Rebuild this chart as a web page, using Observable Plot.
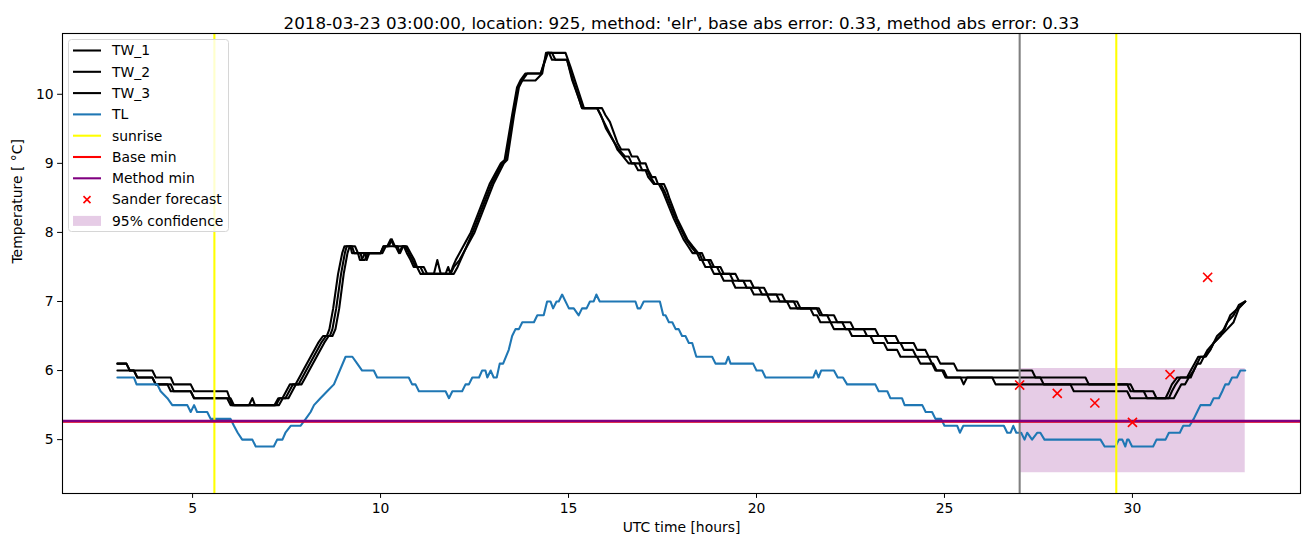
<!DOCTYPE html>
<html><head><meta charset="utf-8">
<script src="https://cdn.jsdelivr.net/npm/d3@7"></script>
<script src="https://cdn.jsdelivr.net/npm/@observablehq/plot@0.6"></script>
<style>
body{margin:0;background:#fff;font-family:"DejaVu Sans",sans-serif;}
#wrap{position:relative;width:1310px;height:547px;}
#legend{position:absolute;left:68px;top:39px;width:161px;height:193px;}
</style></head><body><div id="wrap"></div>
<script>
const titleText = "2018-03-23 03:00:00, location: 925, method: 'elr', base abs error: 0.33, method abs error: 0.33";
const xLabel = "UTC time [hours]";
const yLabel = "Temperature [ °C]";
const xTicks = [5, 10, 15, 20, 25, 30];
const yTicks = [5, 6, 7, 8, 9, 10];
const seriesNames = ["TW_1", "TW_2", "TW_3", "TL"];

const tw1 = [[3.00,6.1],[3.24,6.1],[3.33,6.0],[3.93,6.0],[4.02,5.9],[4.42,5.9],[4.50,5.8],[4.95,5.8],[5.04,5.7],[5.92,5.7],[6.05,5.5],[7.30,5.5],[7.40,5.6],[7.55,5.6],[7.65,5.7],[7.75,5.8],[7.90,5.8],[8.00,5.9],[8.10,6.0],[8.30,6.2],[8.50,6.4],[8.62,6.5],[8.72,6.5],[8.80,6.6],[8.90,6.9],[9.02,7.4],[9.12,7.7],[9.18,7.8],[9.32,7.8],[9.40,7.7],[9.58,7.7],[9.63,7.6],[9.70,7.7],[10.05,7.7],[10.14,7.8],[10.22,7.8],[10.30,7.9],[10.38,7.8],[10.45,7.8],[10.52,7.7],[10.60,7.8],[10.70,7.8],[10.80,7.7],[10.90,7.6],[10.97,7.5],[11.15,7.5],[11.24,7.4],[11.86,7.4],[11.95,7.5],[12.10,7.6],[12.50,8.0],[13.00,8.7],[13.28,9.0],[13.37,9.05],[13.55,9.7],[13.68,10.1],[13.77,10.2],[13.90,10.3],[14.26,10.3],[14.43,10.6],[14.92,10.6],[15.05,10.4],[15.23,10.1],[15.41,9.8],[15.89,9.8],[15.98,9.7],[16.10,9.6],[16.30,9.3],[16.40,9.2],[16.60,9.2],[16.68,9.1],[16.83,9.1],[16.92,9.0],[17.05,9.0],[17.12,8.9],[17.22,8.8],[17.31,8.8],[17.38,8.7],[17.54,8.7],[17.62,8.6],[17.68,8.5],[17.89,8.2],[18.16,7.9],[18.30,7.8],[18.45,7.7],[18.55,7.7],[18.63,7.6],[18.78,7.6],[18.87,7.5],[19.04,7.5],[19.13,7.4],[19.44,7.4],[19.53,7.3],[19.84,7.3],[19.93,7.2],[20.20,7.2],[20.29,7.1],[20.68,7.1],[20.77,7.0],[21.08,7.0],[21.17,6.9],[21.66,6.9],[21.75,6.8],[22.06,6.8],[22.15,6.7],[22.50,6.7],[22.59,6.6],[23.16,6.6],[23.25,6.5],[23.70,6.5],[23.79,6.4],[24.18,6.4],[24.27,6.3],[24.49,6.3],[24.58,6.2],[24.80,6.2],[24.89,6.1],[25.25,6.1],[25.34,6.0],[27.33,6.0],[27.42,5.9],[28.75,5.9],[28.84,5.8],[29.95,5.8],[30.04,5.7],[30.55,5.7],[30.64,5.6],[31.10,5.6],[31.20,5.7],[31.30,5.8],[31.40,5.8],[31.50,5.9],[31.63,6.0],[31.72,6.1],[31.81,6.1],[31.90,6.2],[32.07,6.3],[32.16,6.4],[32.34,6.5],[32.52,6.6],[32.69,6.7],[32.83,6.9],[33.00,7.0]];

const tw2 = [[3.00,6.1],[3.24,6.1],[3.33,6.0],[3.44,6.0],[3.53,5.9],[3.93,5.9],[4.02,5.8],[4.42,5.8],[4.50,5.7],[4.95,5.7],[5.04,5.6],[6.01,5.6],[6.10,5.5],[6.50,5.5],[6.59,5.6],[6.66,5.5],[7.22,5.5],[7.32,5.6],[7.47,5.6],[7.57,5.7],[7.67,5.8],[7.82,5.8],[7.92,5.9],[8.02,6.0],[8.22,6.2],[8.42,6.4],[8.55,6.5],[8.65,6.5],[8.72,6.6],[8.82,6.9],[8.95,7.4],[9.05,7.7],[9.10,7.8],[9.24,7.8],[9.30,7.7],[9.47,7.7],[9.51,7.6],[9.58,7.6],[9.66,7.7],[10.00,7.7],[10.08,7.8],[10.18,7.8],[10.27,7.9],[10.36,7.8],[10.58,7.8],[10.66,7.8],[10.75,7.7],[10.85,7.6],[10.93,7.5],[11.06,7.5],[11.15,7.4],[11.42,7.4],[11.51,7.6],[11.60,7.4],[11.95,7.4],[12.05,7.5],[12.45,8.0],[12.95,8.7],[13.24,9.0],[13.33,9.05],[13.52,9.7],[13.65,10.1],[13.74,10.2],[13.90,10.2],[14.12,10.2],[14.30,10.3],[14.40,10.6],[14.48,10.6],[14.56,10.5],[14.96,10.5],[15.10,10.2],[15.30,9.9],[15.36,9.8],[15.76,9.8],[15.86,9.7],[16.00,9.5],[16.22,9.3],[16.34,9.2],[16.50,9.1],[16.60,9.1],[16.68,9.0],[16.88,9.0],[16.96,8.9],[17.10,8.9],[17.18,8.8],[17.30,8.7],[17.45,8.7],[17.55,8.6],[17.85,8.2],[18.12,7.9],[18.25,7.8],[18.40,7.7],[18.48,7.7],[18.56,7.6],[18.71,7.6],[18.80,7.5],[18.95,7.5],[19.04,7.4],[19.29,7.4],[19.38,7.3],[19.65,7.3],[19.74,7.2],[20.06,7.2],[20.15,7.1],[20.53,7.1],[20.62,7.0],[20.99,7.0],[21.08,6.9],[21.60,6.9],[21.69,6.8],[21.88,6.8],[21.97,6.7],[22.28,6.7],[22.37,6.6],[22.85,6.6],[22.94,6.5],[23.40,6.5],[23.49,6.4],[23.83,6.4],[23.92,6.3],[24.16,6.3],[24.25,6.2],[24.58,6.2],[24.67,6.1],[24.70,6.1],[24.79,6.0],[24.98,6.0],[25.07,5.9],[27.55,5.9],[27.64,5.8],[29.86,5.8],[29.95,5.7],[30.30,5.7],[30.39,5.6],[30.97,5.6],[31.05,5.7],[31.15,5.8],[31.28,5.9],[31.55,5.9],[31.63,6.0],[31.72,6.1],[31.81,6.2],[31.95,6.2],[32.07,6.3],[32.25,6.5],[32.45,6.6],[32.60,6.8],[32.80,6.9],[33.00,7.0]];

const tw3 = [[3.00,6.0],[3.44,6.0],[3.53,5.9],[3.93,5.9],[4.02,5.8],[4.33,5.8],[4.42,5.7],[4.95,5.7],[5.04,5.6],[5.92,5.6],[6.01,5.5],[7.18,5.5],[7.28,5.6],[7.39,5.6],[7.49,5.7],[7.59,5.8],[7.74,5.8],[7.84,5.9],[7.94,6.0],[8.14,6.2],[8.34,6.4],[8.47,6.5],[8.57,6.5],[8.64,6.6],[8.74,6.9],[8.87,7.4],[8.98,7.7],[9.04,7.8],[9.20,7.8],[9.24,7.7],[9.40,7.7],[9.45,7.6],[9.50,7.6],[9.58,7.7],[10.00,7.7],[10.08,7.8],[10.40,7.8],[10.49,7.7],[10.58,7.8],[10.62,7.8],[10.70,7.7],[10.80,7.6],[10.88,7.5],[10.97,7.5],[11.06,7.4],[11.73,7.4],[11.80,7.5],[11.86,7.4],[11.92,7.5],[12.00,7.6],[12.40,8.0],[12.90,8.7],[13.20,9.0],[13.30,9.05],[13.50,9.7],[13.63,10.1],[13.72,10.2],[13.85,10.3],[14.26,10.3],[14.45,10.6],[14.56,10.6],[14.65,10.5],[14.96,10.5],[15.12,10.2],[15.36,9.8],[15.76,9.8],[15.94,9.6],[16.22,9.3],[16.30,9.2],[16.45,9.1],[16.60,9.0],[16.75,9.0],[16.85,8.9],[17.05,8.9],[17.12,8.8],[17.27,8.7],[17.40,8.7],[17.50,8.6],[17.80,8.2],[18.06,7.9],[18.18,7.8],[18.30,7.7],[18.42,7.7],[18.50,7.6],[18.55,7.6],[18.64,7.5],[18.78,7.5],[18.87,7.4],[19.04,7.4],[19.13,7.3],[19.35,7.3],[19.44,7.2],[19.84,7.2],[19.93,7.1],[20.28,7.1],[20.37,7.0],[20.81,7.0],[20.90,6.9],[21.43,6.9],[21.52,6.8],[21.61,6.8],[21.70,6.7],[21.97,6.7],[22.06,6.6],[22.45,6.6],[22.54,6.5],[23.03,6.5],[23.12,6.4],[23.39,6.4],[23.48,6.3],[23.74,6.3],[23.83,6.2],[24.27,6.2],[24.36,6.1],[24.67,6.1],[24.76,6.0],[24.94,6.0],[25.03,5.9],[25.43,5.9],[25.51,5.8],[25.60,5.9],[26.27,5.9],[26.36,5.8],[28.35,5.8],[28.44,5.7],[29.86,5.7],[29.95,5.6],[30.88,5.6],[30.97,5.7],[31.05,5.8],[31.19,5.9],[31.45,5.9],[31.55,6.0],[31.65,6.1],[31.75,6.2],[31.90,6.2],[32.00,6.3],[32.16,6.4],[32.34,6.5],[32.52,6.7],[32.69,6.8],[32.83,6.95],[33.00,7.0]];

const tl = [[3.00,5.9],[3.44,5.9],[3.51,5.8],[4.06,5.8],[4.15,5.7],[4.33,5.6],[4.46,5.5],[4.86,5.5],[4.95,5.4],[5.04,5.5],[5.12,5.4],[5.39,5.4],[5.48,5.3],[6.01,5.3],[6.10,5.2],[6.20,5.1],[6.32,5.0],[6.59,5.0],[6.68,4.9],[7.16,4.9],[7.25,5.0],[7.39,5.0],[7.47,5.1],[7.61,5.2],[7.87,5.2],[8.01,5.3],[8.14,5.4],[8.23,5.5],[8.40,5.6],[8.58,5.7],[8.76,5.8],[9.07,6.2],[9.25,6.2],[9.38,6.1],[9.51,6.0],[9.82,6.0],[9.91,5.9],[10.75,5.9],[10.84,5.8],[10.93,5.8],[11.02,5.7],[11.73,5.7],[11.82,5.6],[11.91,5.7],[12.17,5.7],[12.26,5.8],[12.35,5.8],[12.44,5.9],[12.62,5.9],[12.70,6.0],[12.79,6.0],[12.84,5.9],[12.93,6.0],[13.01,5.9],[13.09,5.9],[13.17,6.1],[13.26,6.1],[13.41,6.3],[13.50,6.5],[13.59,6.6],[13.68,6.6],[13.77,6.7],[14.08,6.7],[14.17,6.8],[14.34,6.8],[14.43,7.0],[14.52,7.0],[14.59,6.9],[14.68,7.0],[14.74,7.0],[14.83,7.1],[15.01,6.9],[15.14,6.9],[15.27,6.8],[15.36,6.9],[15.48,6.9],[15.57,7.0],[15.67,7.0],[15.74,7.1],[15.83,7.0],[16.78,7.0],[16.84,6.9],[16.91,6.9],[17.00,7.0],[17.43,7.0],[17.52,6.8],[17.58,6.8],[17.67,6.7],[17.76,6.7],[17.85,6.6],[17.93,6.6],[18.02,6.5],[18.11,6.5],[18.20,6.4],[18.29,6.4],[18.40,6.2],[18.82,6.2],[18.91,6.1],[19.18,6.1],[19.25,6.2],[19.31,6.1],[19.91,6.1],[20.00,6.0],[20.15,6.0],[20.24,5.9],[21.51,5.9],[21.58,6.0],[21.65,5.9],[21.72,6.0],[22.06,6.0],[22.16,5.9],[22.30,5.9],[22.41,5.8],[23.16,5.8],[23.25,5.7],[23.48,5.7],[23.56,5.6],[23.87,5.6],[23.94,5.5],[24.41,5.5],[24.50,5.4],[24.67,5.4],[24.76,5.3],[24.91,5.3],[25.00,5.2],[25.34,5.2],[25.41,5.1],[25.50,5.2],[26.58,5.2],[26.67,5.1],[26.76,5.1],[26.83,5.2],[26.91,5.1],[27.04,5.1],[27.13,5.0],[27.20,5.1],[27.33,5.0],[27.47,5.1],[27.55,5.1],[27.66,5.0],[29.15,5.0],[29.26,4.9],[29.55,4.9],[29.64,5.0],[29.73,5.0],[29.81,4.9],[29.86,5.0],[29.90,5.0],[29.99,4.9],[30.55,4.9],[30.64,5.0],[30.88,5.0],[30.97,5.1],[31.26,5.1],[31.35,5.2],[31.52,5.2],[31.63,5.3],[31.72,5.4],[31.81,5.5],[32.07,5.5],[32.16,5.6],[32.30,5.6],[32.39,5.7],[32.47,5.8],[32.56,5.8],[32.65,5.9],[32.78,5.9],[32.87,6.0],[33.00,6.0]];

const sunriseHours = [5.58, 29.57];
const forecastStartHour = [27.0];
const baseMin = [5.27];
const methodMin = [5.27];
const forecastHours = [27, 28, 29, 30, 31, 32];
const forecastTemps = [5.79, 5.67, 5.53, 5.25, 5.94, 7.35];
const confHours = [27, 33];
const confLower = [4.52, 4.52];
const confUpper = [6.03, 6.03];

const LW = 2.08;
const colors = {TW_1: "#000000", TW_2: "#000000", TW_3: "#000000", TL: "#1f77b4"};
const lineRows = [];
[tw1, tw2, tw3, tl].forEach((arr, i) => arr.forEach(([h, v]) => lineRows.push({series: seriesNames[i], hour: h, temp: v})));
const confRows = confHours.map((h, i) => ({hour: h, lo: confLower[i], hi: confUpper[i]}));
const fcRows = forecastHours.map((h, i) => ({hour: h, temp: forecastTemps[i]}));

const chart = Plot.plot({
  width: 1310, height: 547,
  marginLeft: 62, marginRight: 10, marginTop: 33, marginBottom: 54,
  style: {fontFamily: "DejaVu Sans, sans-serif", fontSize: "13.9px", color: "#000", background: "#fff"},
  x: {domain: [1.54, 34.47]},
  y: {domain: [4.22, 10.88]},
  marks: [
    Plot.areaY(confRows, {x: "hour", y1: "lo", y2: "hi", fill: "purple", fillOpacity: 0.2}),
    Plot.line(lineRows.filter(d => d.series !== "TL"), {x: "hour", y: "temp", z: "series", stroke: "#000", strokeWidth: LW}),
    Plot.line(lineRows.filter(d => d.series === "TL"), {x: "hour", y: "temp", stroke: colors.TL, strokeWidth: LW}),
    Plot.ruleX(sunriseHours, {stroke: "#ffff00", strokeWidth: LW}),
    Plot.ruleX(forecastStartHour, {stroke: "#808080", strokeWidth: LW}),
    Plot.ruleY(baseMin, {stroke: "red", strokeWidth: 2.5, dy: 0.6}),
    Plot.ruleY(methodMin, {stroke: "purple", strokeWidth: 2.5}),
    Plot.dot(fcRows, {x: "hour", y: "temp", symbol: "times", r: 4.2, stroke: "red", strokeWidth: 1.6}),
    Plot.frame({stroke: "#000", strokeWidth: 1.1}),
    Plot.axisX({ticks: xTicks, tickSize: 4.9, tickPadding: 5, label: null, tickFormat: d => String(d)}),
    Plot.axisY({ticks: yTicks, tickSize: 4.9, tickPadding: 4, label: null, tickFormat: d => String(d)}),
    Plot.text([xLabel], {frameAnchor: "bottom", dy: 38, fontSize: 13.9}),
    Plot.text([yLabel], {frameAnchor: "left", dx: -45, rotate: -90, fontSize: 13.9}),
    Plot.text([titleText], {frameAnchor: "top", dy: -16, fontSize: 16.7})
  ]
});
const wrap = document.getElementById("wrap");
wrap.appendChild(chart);

// legend
const legendItems = [
  {label: "TW_1", kind: "line", color: "#000"},
  {label: "TW_2", kind: "line", color: "#000"},
  {label: "TW_3", kind: "line", color: "#000"},
  {label: "TL", kind: "line", color: "#1f77b4"},
  {label: "sunrise", kind: "line", color: "#ffff00"},
  {label: "Base min", kind: "line", color: "red"},
  {label: "Method min", kind: "line", color: "purple"},
  {label: "Sander forecast", kind: "x", color: "red"},
  {label: "95% confidence", kind: "patch", color: "purple"}
];
const ns = "http://www.w3.org/2000/svg";
const lg = document.createElementNS(ns, "svg");
lg.setAttribute("id", "legend");
lg.setAttribute("width", 161); lg.setAttribute("height", 193);
lg.style.fontFamily = "DejaVu Sans, sans-serif";
const bg = document.createElementNS(ns, "rect");
bg.setAttribute("x", 0.5); bg.setAttribute("y", 0.5); bg.setAttribute("width", 160); bg.setAttribute("height", 192);
bg.setAttribute("rx", 3); bg.setAttribute("fill", "rgba(255,255,255,0.8)"); bg.setAttribute("stroke", "#d6d6d6");
lg.appendChild(bg);
legendItems.forEach((it, i) => {
  const y = 11.5 + i * 21.3;
  if (it.kind === "line") {
    const l = document.createElementNS(ns, "line");
    l.setAttribute("x1", 5); l.setAttribute("x2", 33); l.setAttribute("y1", y); l.setAttribute("y2", y);
    l.setAttribute("stroke", it.color); l.setAttribute("stroke-width", LW);
    lg.appendChild(l);
  } else if (it.kind === "x") {
    const p = document.createElementNS(ns, "path");
    p.setAttribute("d", `M${19-3.5},${y-3.5}L${19+3.5},${y+3.5}M${19-3.5},${y+3.5}L${19+3.5},${y-3.5}`);
    p.setAttribute("stroke", it.color); p.setAttribute("stroke-width", 1.6);
    lg.appendChild(p);
  } else {
    const r = document.createElementNS(ns, "rect");
    r.setAttribute("x", 5); r.setAttribute("y", y - 5); r.setAttribute("width", 28); r.setAttribute("height", 10);
    r.setAttribute("fill", it.color); r.setAttribute("fill-opacity", 0.2);
    lg.appendChild(r);
  }
  const t = document.createElementNS(ns, "text");
  t.setAttribute("x", 44); t.setAttribute("y", y); t.setAttribute("dy", "0.35em");
  t.setAttribute("font-size", 13.9); t.textContent = it.label;
  lg.appendChild(t);
});
wrap.appendChild(lg);
</script></body></html>
